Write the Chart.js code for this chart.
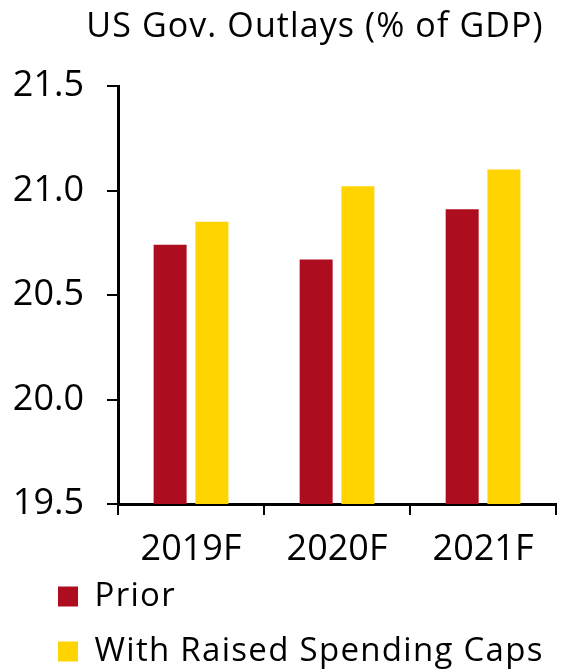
<!DOCTYPE html>
<html>
<head>
<meta charset="utf-8">
<script src="https://cdn.jsdelivr.net/npm/chart.js@4/dist/chart.umd.min.js"></script>
<style>
  html, body { margin: 0; padding: 0; background: #ffffff; }
  canvas { display: block; }
</style>
</head>
<body>
<canvas id="outlays" width="561" height="672"></canvas>
<script>
// Chart data
const titleText = 'US Gov. Outlays (% of GDP)';
const years = ['2019F', '2020F', '2021F'];
const seriesNames = ['Prior', 'With Raised Spending Caps'];
const prior = [20.74, 20.67, 20.91];
const raisedCaps = [20.85, 21.02, 21.10];
const yTicks = [19.5, 20.0, 20.5, 21.0, 21.5];

const FONT = "'Open Sans', 'Noto Sans', sans-serif";
const RED = '#ae0c1f';
const YELLOW = '#ffd400';

// Title and legend text are drawn slightly letter-spaced; the title is
// centred a little right of the canvas middle, and the legend is inset
// and tucked up close under the category labels.
const textStyling = {
  id: 'textStyling',
  afterLayout(chart) {
    if (chart.titleBlock) { chart.titleBlock.left = 66; }
    if (chart.legend) {
      chart.legend.left = 36;
      chart.legend.top = 558;
    }
  },
  beforeDraw(chart) {
    const pairs = [[chart.titleBlock, '1.1px'], [chart.legend, '1.3px']];
    for (const [box, spacing] of pairs) {
      if (box && !box._spacedDraw) {
        const orig = box.draw.bind(box);
        box.draw = (...args) => {
          const ctx = chart.ctx;
          ctx.save();
          ctx.letterSpacing = spacing;
          orig(...args);
          ctx.restore();
        };
        box._spacedDraw = true;
      }
    }
  }
};

new Chart(document.getElementById('outlays'), {
  type: 'bar',
  data: {
    labels: years,
    datasets: [
      { label: seriesNames[0], data: prior, backgroundColor: RED, borderWidth: 0 },
      { label: seriesNames[1], data: raisedCaps, backgroundColor: YELLOW, borderWidth: 0 }
    ]
  },
  options: {
    responsive: false,
    animation: false,
    devicePixelRatio: 1,
    layout: { padding: { left: 0, right: -3, top: 0, bottom: 0 } },
    datasets: {
      bar: { categoryPercentage: 0.572, barPercentage: 0.79 }
    },
    scales: {
      x: {
        offset: true,
        afterFit(scale) { scale.height = 68; },
        border: { display: true, color: '#000', width: 3 },
        grid: {
          offset: true,
          drawOnChartArea: false,
          drawTicks: true,
          tickLength: 11,
          color: '#000',
          lineWidth: 2
        },
        ticks: {
          color: '#000',
          padding: 27.5,
          font: { family: FONT, size: 36, lineHeight: 0.42 }
        }
      },
      y: {
        min: 19.5,
        max: 21.5,
        afterBuildTicks(scale) {
          scale.ticks = yTicks.map(v => ({ value: v }));
        },
        afterFit(scale) { scale.width = 118; },
        border: { display: true, color: '#000', width: 3 },
        grid: {
          drawOnChartArea: false,
          drawTicks: true,
          tickLength: 11,
          color: '#000',
          lineWidth: 2
        },
        ticks: {
          color: '#000',
          padding: 23,
          font: { family: FONT, size: 36 },
          callback: v => Number(v).toFixed(1)
        }
      }
    },
    plugins: {
      title: {
        display: true,
        text: titleText,
        color: '#000',
        font: { family: FONT, size: 34, weight: 'normal', lineHeight: 1.2 },
        padding: { top: 7, bottom: 38.2 }
      },
      legend: {
        display: true,
        position: 'bottom',
        align: 'start',
        maxHeight: 100,
        labels: {
          color: '#000',
          boxWidth: 20,
          boxHeight: 20,
          padding: 22,
          font: { family: FONT, size: 33 }
        }
      },
      tooltip: { enabled: false }
    }
  },
  plugins: [textStyling]
});
</script>
</body>
</html>
